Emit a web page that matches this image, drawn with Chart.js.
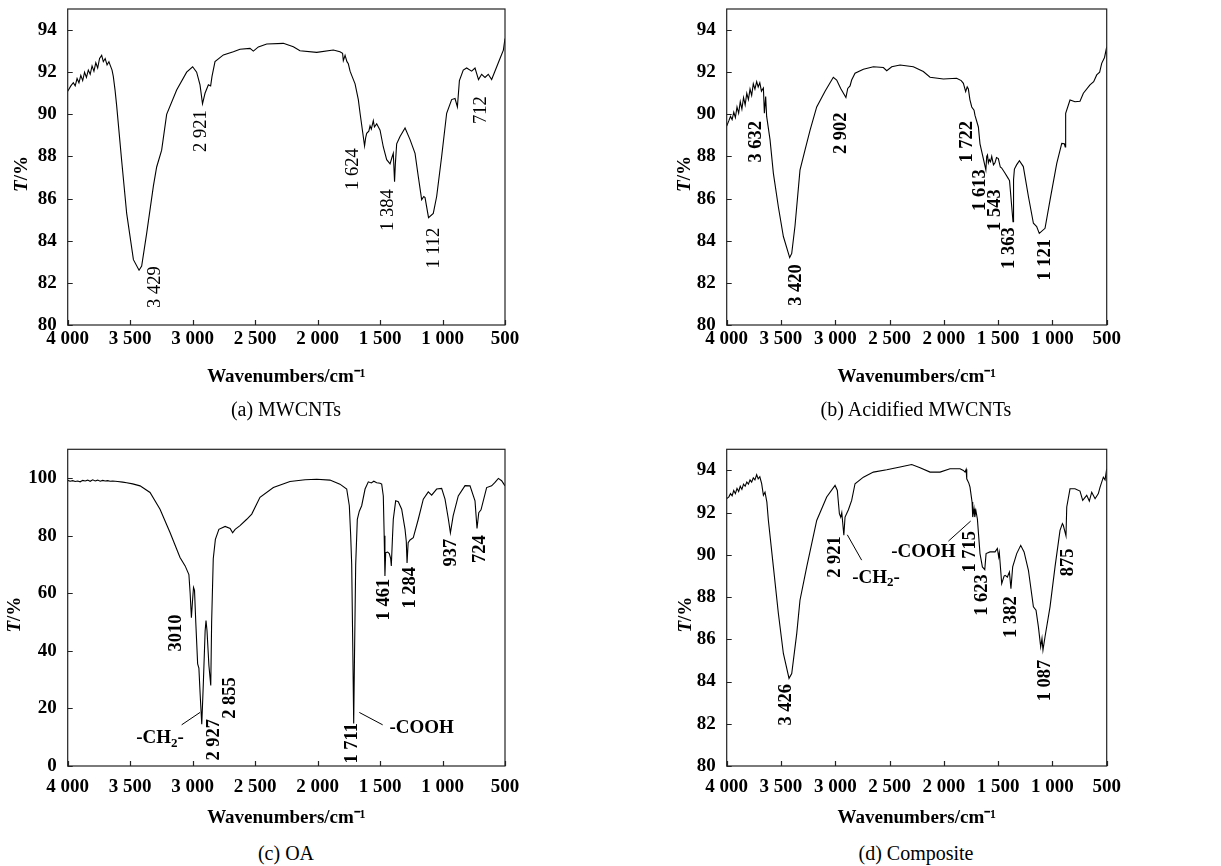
<!DOCTYPE html>
<html>
<head>
<meta charset="utf-8">
<script src="https://cdn.jsdelivr.net/npm/chart.js@4.4.1/dist/chart.umd.min.js"></script>
<style>
  body { margin: 0; background: #fff; width: 1221px; height: 866px; position: relative; overflow: hidden; font-family: "Liberation Serif", "Times New Roman", serif; }
  .panel { position: absolute; }
  .cap { position: absolute; width: 400px; text-align: center; font-size: 20px; line-height: 24px; color: #000; }
</style>
</head>
<body>
<div class="panel" style="left:0;top:0"><canvas id="chartA" width="530" height="400"></canvas></div>
<div class="panel" style="left:640px;top:0"><canvas id="chartB" width="490" height="400"></canvas></div>
<div class="panel" style="left:0;top:440px"><canvas id="chartC" width="530" height="400"></canvas></div>
<div class="panel" style="left:640px;top:440px"><canvas id="chartD" width="490" height="400"></canvas></div>
<div class="cap" style="left:86px;top:397px">(a) MWCNTs</div>
<div class="cap" style="left:716px;top:397px">(b) Acidified MWCNTs</div>
<div class="cap" style="left:86px;top:841px">(c) OA</div>
<div class="cap" style="left:716px;top:841px">(d) Composite</div>
<script>
// ---- (a) MWCNTs ----
const wnA = [4000, 3975, 3955, 3940, 3925, 3910, 3895, 3880, 3865, 3850, 3835, 3820, 3805, 3790, 3775, 3760, 3745, 3728, 3715, 3700,
  3685, 3670, 3661, 3645, 3635, 3621, 3608, 3568, 3528, 3474, 3429, 3408, 3368, 3314, 3288, 3248, 3208, 3128, 3048, 3000,
  2968, 2941, 2921, 2901, 2874, 2856, 2845, 2821, 2754, 2674, 2621, 2541, 2514, 2474, 2407, 2274, 2194, 2141, 2007, 1874,
  1821, 1800, 1794, 1780, 1765, 1754, 1740, 1727, 1700, 1674, 1660, 1624, 1615, 1607, 1590, 1580, 1570, 1554, 1545, 1527,
  1500, 1474, 1447, 1420, 1405, 1394, 1384, 1378, 1367, 1340, 1300, 1260, 1220, 1194, 1167, 1150, 1140, 1112, 1074, 1047,
  1007, 967, 927, 900, 881, 865, 834, 807, 767, 740, 712, 687, 660, 634, 607, 567, 540, 513, 500];
const tA = [91.1, 91.35, 91.5, 91.35, 91.7, 91.5, 91.85, 91.6, 92.0, 91.75, 92.1, 91.9, 92.3, 92.05, 92.45, 92.2, 92.65, 92.8, 92.5, 92.65,
  92.35, 92.5, 92.35, 92.1, 91.8, 91.15, 90.4, 87.8, 85.3, 83.1, 82.6, 82.8, 84.35, 86.6, 87.5, 88.3, 90.0, 91.15, 92.0, 92.26,
  92.0, 91.4, 90.5, 91.0, 91.4, 91.35, 91.8, 92.5, 92.82, 92.97, 93.09, 93.13, 93.0, 93.2, 93.34, 93.37, 93.21, 93.02, 92.94, 93.05,
  92.97, 92.9, 92.55, 92.8, 92.5, 92.4, 92.05, 91.85, 91.45, 90.7, 90.05, 88.5, 88.9, 89.1, 89.2, 89.45, 89.3, 89.7, 89.4, 89.55,
  89.25, 88.45, 87.85, 87.65, 87.95, 88.15, 86.8, 87.6, 88.6, 88.95, 89.35, 88.8, 88.15, 87.05, 85.95, 86.1, 86.05, 85.1, 85.3, 86.1,
  88.0, 90.05, 90.7, 90.75, 90.35, 91.6, 92.1, 92.2, 92.05, 92.2, 91.65, 91.9, 91.75, 91.9, 91.65, 92.25, 92.65, 93.05, 93.6];
const peaksA = [["3 429", 3301, 81.8], ["2 921", 2928, 89.2], ["1 624", 1719, 87.4], ["1 384", 1434, 85.45], ["1 112", 1068, 83.65], ["712", 687, 90.2]];

// ---- (b) Acidified MWCNTs ----
const wnB = [4000, 3980, 3965, 3950, 3935, 3920, 3905, 3890, 3875, 3860, 3845, 3830, 3815, 3800, 3785, 3770, 3755, 3740, 3724, 3710,
  3695, 3680, 3662, 3653, 3641, 3632, 3601, 3570, 3524, 3478, 3420, 3401, 3371, 3325, 3279, 3232, 3171, 3094, 3018, 2987,
  2950, 2902, 2885, 2864, 2849, 2818, 2741, 2649, 2557, 2526, 2480, 2403, 2281, 2189, 2127, 2004, 1882, 1840, 1820, 1799,
  1785, 1774, 1760, 1743, 1722, 1713, 1682, 1667, 1613, 1605, 1598, 1590, 1581, 1570, 1559, 1543, 1529, 1515, 1498, 1480,
  1467, 1436, 1406, 1395, 1363, 1358, 1350, 1330, 1304, 1268, 1221, 1175, 1160, 1145, 1121, 1068, 1022, 960, 914, 890,
  882, 878, 838, 792, 746, 715, 654, 620, 592, 565, 546, 520, 500];
const tB = [89.45, 89.7, 89.9, 89.75, 90.1, 89.85, 90.35, 90.05, 90.6, 90.25, 90.8, 90.45, 91.0, 90.7, 91.2, 90.9, 91.45, 91.2, 91.55, 91.3,
  91.5, 91.1, 91.25, 90.05, 90.85, 89.9, 88.8, 87.2, 85.6, 84.2, 83.2, 83.4, 84.7, 87.35, 88.3, 89.25, 90.35, 91.1, 91.76, 91.63,
  91.23, 90.8, 91.23, 91.35, 91.63, 91.95, 92.14, 92.26, 92.22, 92.07, 92.26, 92.34, 92.26, 92.03, 91.76, 91.68, 91.71, 91.6, 91.47, 91.08,
  91.3, 91.2, 90.7, 90.35, 90.2, 89.95, 89.4, 88.6, 87.36, 88.0, 88.07, 87.7, 87.85, 87.75, 88.0, 87.6, 87.7, 87.95, 87.9, 87.5,
  87.45, 87.2, 86.95, 86.85, 84.9, 86.9, 87.4, 87.6, 87.8, 87.52, 86.1, 84.83, 84.75, 84.67, 84.35, 84.59, 85.93, 87.67, 88.62, 88.6,
  88.45, 90.05, 90.68, 90.6, 90.62, 91.0, 91.4, 91.55, 91.87, 92.0, 92.42, 92.7, 93.2];
const peaksB = [["3 632", 3724, 88.7], ["3 420", 3361, 81.9], ["2 902", 2941, 89.1], ["1 722", 1783, 88.7],
  ["1 613", 1667, 86.4], ["1 543", 1528, 85.45], ["1 363", 1396, 83.65], ["1 121", 1068, 83.1]];

// ---- (c) OA ----
const wnC = [4000, 3980, 3960, 3940, 3920, 3900, 3880, 3860, 3840, 3820, 3800, 3780, 3760, 3740, 3720, 3700, 3680, 3660, 3640, 3600,
  3560, 3528, 3480, 3421, 3341, 3261, 3181, 3101, 3060, 3030, 3020, 3010, 3000, 2993, 2985, 2975, 2960, 2950, 2940, 2927,
  2915, 2900, 2893, 2885, 2870, 2855, 2848, 2835, 2818, 2790, 2740, 2700, 2680, 2660, 2621, 2567, 2527, 2461, 2354, 2221,
  2100, 2007, 1901, 1821, 1767, 1746, 1735, 1727, 1718, 1711, 1704, 1695, 1682, 1666, 1647, 1620, 1594, 1570, 1550, 1527,
  1500, 1487, 1474, 1467, 1461, 1455, 1439, 1426, 1415, 1410, 1400, 1394, 1375, 1354, 1327, 1300, 1290, 1284, 1275, 1260,
  1234, 1194, 1154, 1114, 1087, 1047, 1007, 980, 953, 937, 915, 874, 820, 780, 740, 724, 710, 692, 647, 607,
  580, 553, 527, 500];
const tC = [99.2, 98.9, 99.1, 98.8, 99.0, 98.7, 99.2, 99.0, 99.3, 98.9, 99.4, 99.0, 99.3, 98.9, 99.2, 99.0, 99.1, 98.9, 99.0, 98.8,
  98.6, 98.4, 98.0, 97.3, 95.0, 89.2, 81.1, 72.4, 69.5, 66.5, 60.0, 51.5, 58.0, 62.0, 61.0, 50.0, 35.5, 34.0, 25.0, 14.5,
  28.0, 47.0, 50.5, 47.0, 35.0, 28.0, 50.0, 72.0, 78.7, 82.2, 83.2, 82.5, 81.0, 82.2, 83.5, 85.7, 87.5, 93.3, 96.7, 98.8,
  99.4, 99.6, 99.3, 97.9, 96.2, 90.4, 80.0, 70.0, 40.0, 14.8, 40.0, 70.0, 85.7, 88.5, 90.4, 96.2, 98.7, 98.3, 98.9, 98.4,
  98.2, 97.9, 93.8, 80.0, 66.0, 74.1, 74.3, 73.8, 72.0, 69.5, 80.0, 85.7, 92.1, 91.8, 89.2, 82.2, 78.0, 70.5, 77.6, 78.5,
  79.3, 85.7, 92.7, 95.2, 94.1, 96.2, 96.4, 92.7, 85.7, 81.0, 86.9, 93.8, 97.4, 97.3, 92.1, 82.5, 88.0, 89.0, 96.7, 97.3,
  98.5, 99.9, 99.1, 97.3];
const peaksC = [["3010", 3128, 46.2], ["2 927", 2829, 9.1], ["2 855", 2701, 23.6], ["1 711", 1719, 7.9],
  ["1 461", 1468, 57.8], ["1 284", 1260, 61.9], ["937", 927, 74.1], ["724", 700, 75.3]];
const groupsC = [["-CH|2|-", 3261, 9.6], ["-COOH", 1167, 13.1]];
const leadersC = [[3088, 14.3, 2941, 18.6], [1666, 18.6, 1479, 14.3]];

// ---- (d) Composite ----
const wnD = [4000, 3980, 3965, 3950, 3935, 3920, 3905, 3890, 3875, 3860, 3845, 3830, 3815, 3800, 3785, 3770, 3755, 3740, 3724, 3710,
  3695, 3678, 3662, 3647, 3630, 3616, 3570, 3524, 3478, 3426, 3401, 3355, 3325, 3263, 3171, 3079, 3002, 2981, 2962, 2950,
  2940, 2921, 2910, 2879, 2849, 2818, 2741, 2649, 2526, 2403, 2296, 2219, 2127, 2035, 1943, 1851, 1820, 1805, 1795, 1789,
  1770, 1759, 1740, 1734, 1722, 1715, 1705, 1691, 1667, 1645, 1623, 1611, 1575, 1528, 1507, 1495, 1489, 1467, 1445, 1436,
  1415, 1396, 1382, 1366, 1329, 1292, 1261, 1221, 1175, 1151, 1129, 1108, 1096, 1087, 1068, 1022, 976, 930, 908, 900,
  885, 875, 868, 838, 792, 746, 721, 684, 660, 638, 607, 577, 561, 531, 515, 500];
const tD = [92.66, 92.75, 92.9, 92.8, 93.05, 92.9, 93.15, 93.0, 93.25, 93.1, 93.35, 93.25, 93.45, 93.35, 93.55, 93.45, 93.65, 93.55, 93.8, 93.6,
  93.7, 93.37, 92.82, 92.97, 92.5, 91.63, 89.43, 87.22, 85.33, 84.15, 84.38, 86.27, 87.85, 89.43, 91.63, 92.74, 93.29, 93.05, 91.95, 91.79,
  92.0, 90.93, 91.79, 92.14, 92.58, 93.37, 93.68, 93.92, 94.03, 94.16, 94.28, 94.13, 93.92, 93.92, 94.08, 94.08, 94.0, 93.92, 94.05, 93.6,
  93.4, 93.21, 92.5, 91.79, 92.19, 91.79, 92.1, 91.7, 90.06, 89.43, 89.3, 90.06, 90.14, 90.14, 90.3, 89.9, 90.1, 88.64, 89.0, 89.03,
  88.95, 89.19, 88.4, 89.43, 90.06, 90.45, 90.14, 89.27, 87.54, 87.38, 86.59, 85.64, 86.04, 85.49, 86.12, 87.54, 89.43, 91.16, 91.48, 91.4,
  91.1, 90.9, 92.27, 93.13, 93.13, 93.02, 92.58, 92.82, 92.55, 92.97, 92.66, 92.9, 93.21, 93.68, 93.55, 94.08];
const peaksD = [["3 426", 3453, 82.9], ["2 921", 3002, 89.9], ["1 715", 1753, 90.15], ["1 623", 1651, 88.1],
  ["1 382", 1375, 87.05], ["1 087", 1068, 84.05], ["875", 853, 89.65]];
const groupsD = [["-CH|2|-", 2625, 88.9], ["-COOH", 2189, 90.15]];
const leadersD = [[2889, 90.95, 2757, 89.75], [1958, 90.65, 1753, 91.6]];

const SERIF = '"Liberation Serif", "Times New Roman", serif';

function fmtWn(v) {
  return v >= 1000 ? Math.floor(v / 1000) + " " + String(v % 1000).padStart(3, "0") : String(v);
}

// frame, inward ticks, y title and the rotated peak labels
const ftirDecor = {
  id: "ftirDecor",
  afterDatasetsDraw(chart, args, o) {
    const { ctx, chartArea: a, scales: { x, y } } = chart;
    ctx.save();
    ctx.strokeStyle = "#222";
    ctx.lineWidth = 1.2;
    ctx.strokeRect(a.left, a.top, a.right - a.left, a.bottom - a.top);
    ctx.beginPath();
    x.ticks.forEach(t => {
      const px = Math.round(x.getPixelForValue(t.value)) + 0.5;
      ctx.moveTo(px, a.bottom); ctx.lineTo(px, a.bottom - 5);
    });
    y.ticks.forEach(t => {
      const py = Math.round(y.getPixelForValue(t.value)) + 0.5;
      ctx.moveTo(a.left, py); ctx.lineTo(a.left + 5, py);
    });
    ctx.stroke();

    ctx.fillStyle = "#000";
    // y axis title: italic T + /%
    ctx.translate(a.left - o.yTitleGap, (a.top + a.bottom) / 2 + 7);
    ctx.rotate(-Math.PI / 2);
    ctx.textBaseline = "middle";
    ctx.textAlign = "left";
    ctx.font = "italic bold 19px " + SERIF;
    const w1 = ctx.measureText("T").width;
    ctx.font = "bold 19px " + SERIF;
    const w2 = ctx.measureText("/%").width;
    ctx.font = "italic bold 19px " + SERIF;
    ctx.fillText("T", -(w1 + w2) / 2, 0);
    ctx.font = "bold 19px " + SERIF;
    ctx.fillText("/%", -(w1 + w2) / 2 + w1, 0);
    ctx.restore();

    // peak labels, reading upwards
    ctx.save();
    ctx.fillStyle = "#000";
    ctx.font = o.peakWeight + " 18.5px " + SERIF;
    ctx.textAlign = "center";
    ctx.textBaseline = "middle";
    o.peaks.forEach(([txt, w, t]) => {
      ctx.save();
      ctx.translate(x.getPixelForValue(w), y.getPixelForValue(t));
      ctx.rotate(-Math.PI / 2);
      ctx.fillText(txt, 0, 0);
      ctx.restore();
    });

    // leader lines
    ctx.strokeStyle = "#000";
    ctx.lineWidth = 1;
    ctx.beginPath();
    o.leaders.forEach(([w1, t1, w2, t2]) => {
      ctx.moveTo(x.getPixelForValue(w1), y.getPixelForValue(t1));
      ctx.lineTo(x.getPixelForValue(w2), y.getPixelForValue(t2));
    });
    ctx.stroke();

    // group labels, "|" marks a subscript part
    ctx.textAlign = "left";
    o.groups.forEach(([txt, w, t]) => {
      const parts = txt.split("|");
      const fonts = parts.map((p, i) => (i % 2 ? "bold 13px " : "bold 19px ") + SERIF);
      let total = 0;
      const widths = parts.map((p, i) => { ctx.font = fonts[i]; const m = ctx.measureText(p).width; total += m; return m; });
      let cx = x.getPixelForValue(w) - total / 2;
      const cy = y.getPixelForValue(t);
      parts.forEach((p, i) => {
        ctx.font = fonts[i];
        ctx.fillText(p, cx, cy + (i % 2 ? 5 : 0));
        cx += widths[i];
      });
    });
    ctx.restore();
  }
};

function makeChart(id, wn, t, cfg) {
  const pts = wn.map((w, i) => ({ x: w, y: t[i] }));
  return new Chart(document.getElementById(id), {
    type: "line",
    data: {
      datasets: [{
        data: pts,
        borderColor: "#000",
        borderWidth: 1.1,
        pointRadius: 0,
        tension: 0,
        fill: false
      }]
    },
    plugins: [ftirDecor],
    options: {
      responsive: false,
      animation: false,
      events: [],
      layout: { padding: { left: 0, top: cfg.padTop, right: cfg.padRight, bottom: 0 } },
      plugins: {
        legend: { display: false },
        tooltip: { enabled: false },
        ftirDecor: {
          peaks: cfg.peaks, leaders: cfg.leaders || [], groups: cfg.groups || [],
          peakWeight: cfg.peakWeight, yTitleGap: cfg.yTitleGap
        }
      },
      scales: {
        x: {
          type: "linear",
          reverse: true,
          min: 500,
          max: 4000,
          afterFit: s => { s.height = cfg.xHeight; s.paddingLeft = 0; s.paddingRight = 0; },
          grid: { display: false, drawTicks: false },
          border: { display: false },
          ticks: {
            stepSize: 500,
            padding: cfg.xTickPad,
            color: "#000",
            maxRotation: 0,
            autoSkip: false,
            font: { family: SERIF, size: 19, weight: "bold" },
            callback: v => fmtWn(v)
          },
          title: {
            display: true,
            text: "Wavenumbers/cm\u207B\u00B9",
            color: "#000",
            font: { family: SERIF, size: 19, weight: "bold" },
            padding: { top: 0, bottom: cfg.xTitlePad }
          }
        },
        y: {
          min: cfg.yMin,
          max: cfg.yMax,
          afterFit: s => { s.width = cfg.yWidth; s.paddingTop = 0; s.paddingBottom = 0; },
          grid: { display: false, drawTicks: false },
          border: { display: false },
          ticks: {
            stepSize: cfg.yStep,
            includeBounds: false,
            padding: 11,
            color: "#000",
            font: { family: SERIF, size: 19, weight: "bold" }
          }
        }
      }
    }
  });
}

makeChart("chartA", wnA, tA, { padTop: 9, padRight: 25, yWidth: 67.7, xHeight: 75, xTickPad: 3, xTitlePad: 11.6,
  yMin: 80, yMax: 95, yStep: 2, peaks: peaksA, peakWeight: "normal", yTitleGap: 46 });
makeChart("chartB", wnB, tB, { padTop: 9, padRight: 23.3, yWidth: 86.7, xHeight: 75, xTickPad: 3, xTitlePad: 11.6,
  yMin: 80, yMax: 95, yStep: 2, peaks: peaksB, peakWeight: "bold", yTitleGap: 42 });
makeChart("chartC", wnC, tC, { padTop: 9.3, padRight: 25, yWidth: 67.7, xHeight: 74, xTickPad: 10, xTitlePad: 10.6,
  yMin: 0, yMax: 110, yStep: 20, peaks: peaksC, groups: groupsC, leaders: leadersC, peakWeight: "bold", yTitleGap: 53 });
makeChart("chartD", wnD, tD, { padTop: 9.3, padRight: 23.3, yWidth: 86.7, xHeight: 74, xTickPad: 10, xTitlePad: 10.6,
  yMin: 80, yMax: 95, yStep: 2, peaks: peaksD, groups: groupsD, leaders: leadersD, peakWeight: "bold", yTitleGap: 41 });
</script>
</body>
</html>
